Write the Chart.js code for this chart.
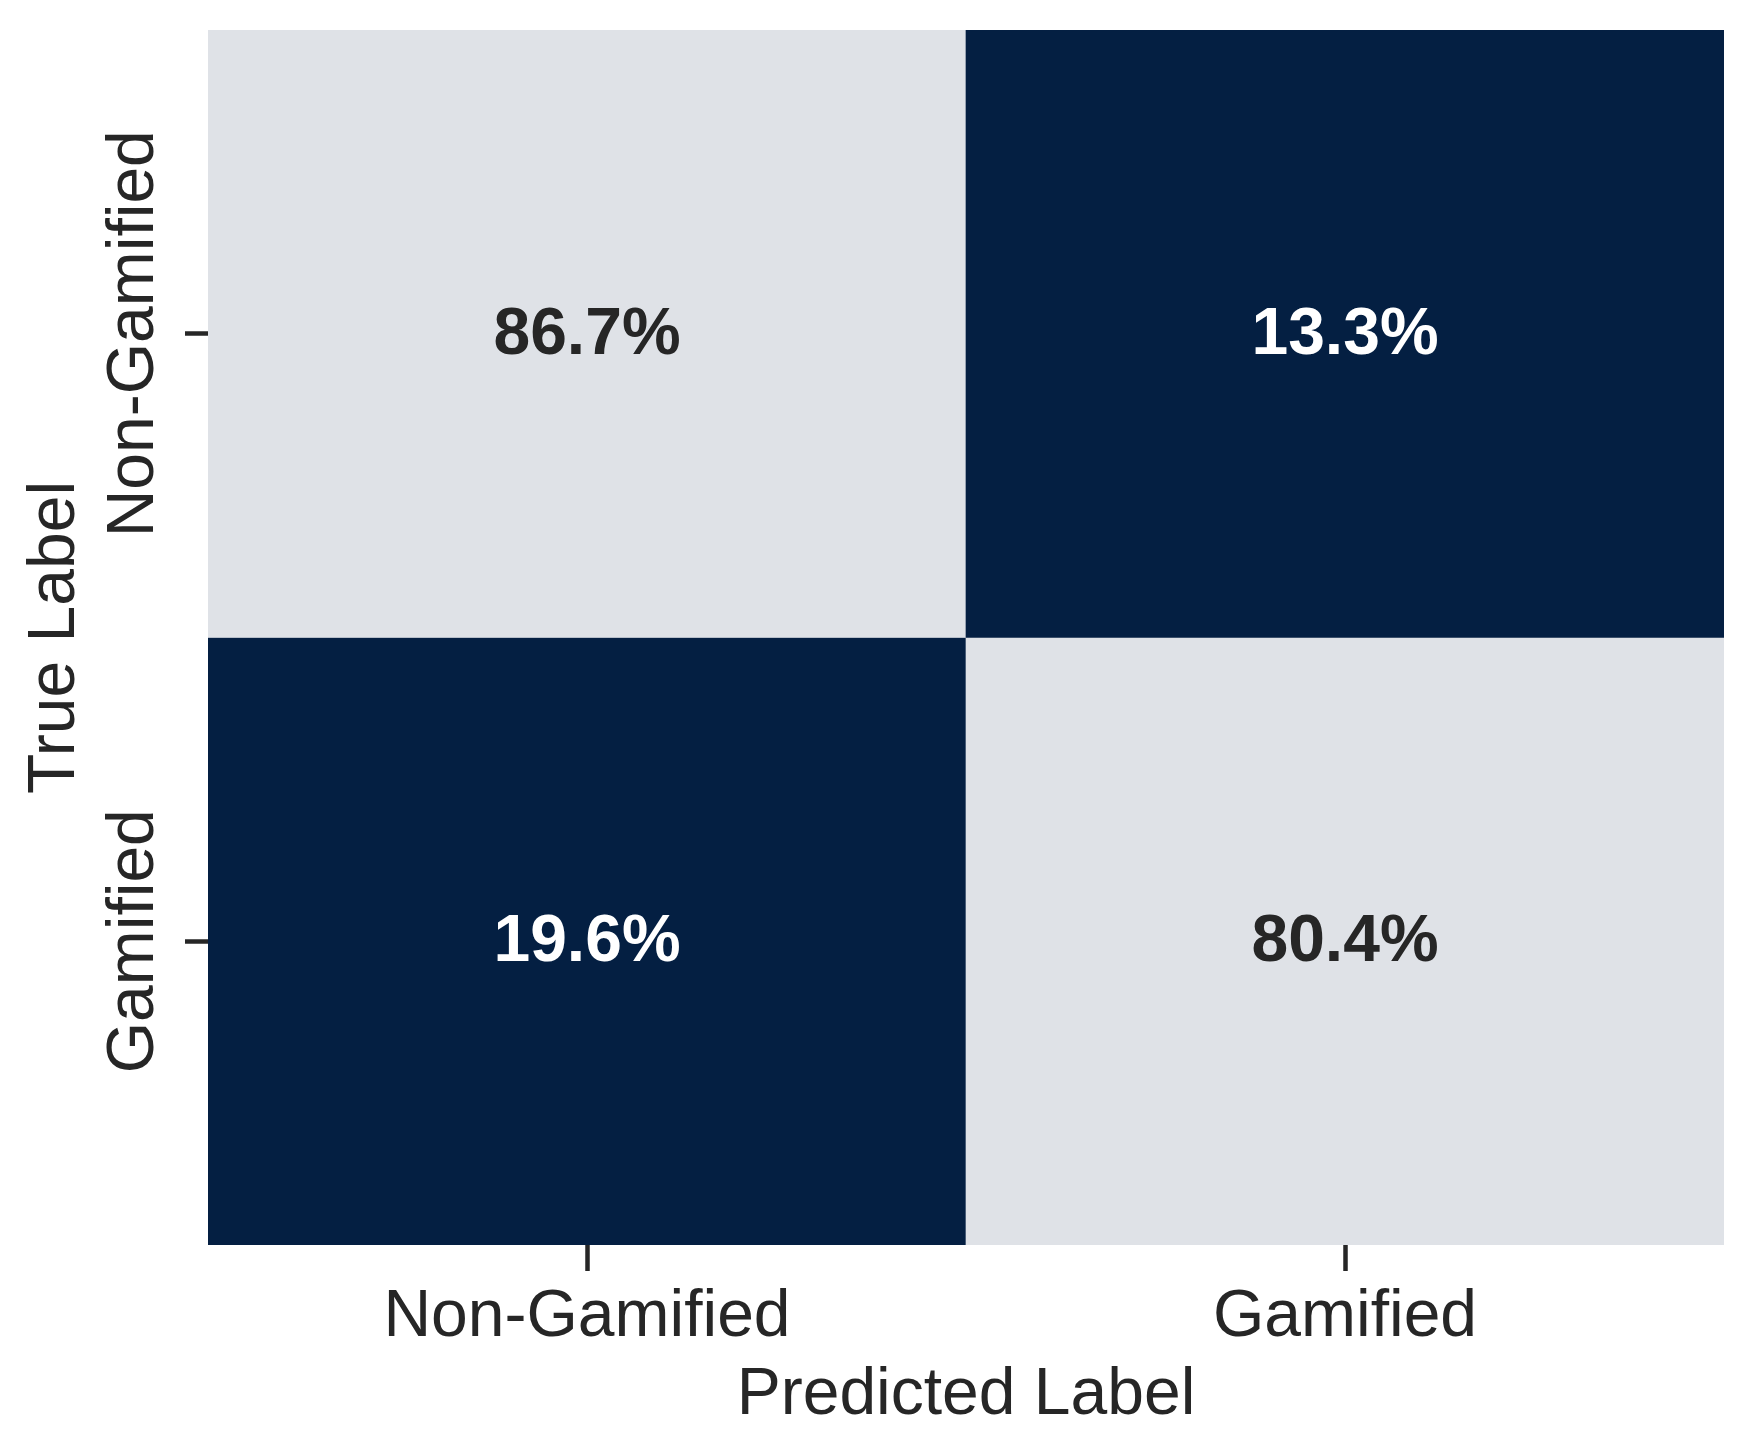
<!DOCTYPE html>
<html>
<head>
<meta charset="utf-8">
<script src="https://cdn.jsdelivr.net/npm/chart.js@4.4.1/dist/chart.umd.min.js"></script>
<style>
  html, body { margin: 0; padding: 0; background: #fff; }
  #wrap { width: 1754px; height: 1454px; }
</style>
</head>
<body>
<div id="wrap"><canvas id="myChart" width="1754" height="1454"></canvas></div>
<script>
// confusion matrix, rows = true label, columns = predicted label (percent)
const predictedLabels = ['Non-Gamified', 'Gamified'];
const trueLabels = ['Non-Gamified', 'Gamified'];
const nonGamifiedRow = [86.7, 13.3];
const gamifiedRow = [19.6, 80.4];
const rows = [nonGamifiedRow, gamifiedRow];

const lightCell = '#dfe2e7';
const darkCell = '#041f42';
const textDark = '#262626';
const fontFamily = '"Liberation Sans", Arial, sans-serif';

const cellColor = v => (v >= 50 ? lightCell : darkCell);
const textColor = v => (v >= 50 ? textDark : '#ffffff');

// one stacked bar per cell, each one row tall
const datasets = rows.map((row, i) => ({
  label: trueLabels[i],
  data: row.map(() => 1),
  pct: row,
  backgroundColor: row.map(cellColor),
  borderWidth: 0,
  barPercentage: 1,
  categoryPercentage: 1
}));

const cellText = {
  id: 'cellText',
  afterDatasetsDraw(chart) {
    const c = chart.ctx;
    c.save();
    c.font = 'bold 66px ' + fontFamily;
    c.textAlign = 'center';
    c.textBaseline = 'middle';
    chart.data.datasets.forEach((ds, i) => {
      chart.getDatasetMeta(i).data.forEach((bar, j) => {
        const v = ds.pct[j];
        c.fillStyle = textColor(v);
        c.fillText(v.toFixed(1) + '%', bar.x, (bar.y + bar.base) / 2 + 2);
      });
    });
    c.restore();
  }
};

const rowLabels = {
  id: 'rowLabels',
  afterDraw(chart) {
    const c = chart.ctx;
    const y = chart.scales.y;
    c.save();
    c.font = '66px ' + fontFamily;
    c.fillStyle = textDark;
    c.textAlign = 'center';
    c.textBaseline = 'middle';
    trueLabels.forEach((lab, i) => {
      c.save();
      c.translate(135, y.getPixelForValue(i + 0.5));
      c.rotate(-Math.PI / 2);
      c.fillText(lab, 0, 0);
      c.restore();
    });
    c.restore();
  }
};

const ctx = document.getElementById('myChart').getContext('2d');

const myChart = new Chart(ctx, {
  type: 'bar',
  data: {
    labels: predictedLabels,
    datasets: datasets
  },
  options: {
    responsive: false,
    devicePixelRatio: 1,
    animation: false,
    layout: {
      padding: { top: 30, right: 30, left: 0, bottom: 0 }
    },
    scales: {
      x: {
        stacked: true,
        grid: {
          offset: false,
          drawOnChartArea: false,
          drawTicks: true,
          tickLength: 26,
          tickWidth: 4.5,
          tickColor: textDark
        },
        border: { display: false },
        ticks: {
          color: textDark,
          padding: 7,
          font: { family: fontFamily, size: 66 }
        },
        title: {
          display: true,
          text: 'Predicted Label',
          color: textDark,
          font: { family: fontFamily, size: 66 },
          padding: { top: 0, bottom: 19 }
        },
        afterFit: s => { s.height = 209; }
      },
      y: {
        stacked: true,
        reverse: true,
        min: 0,
        max: 2,
        afterBuildTicks: s => {
          s.ticks = trueLabels.map((_, i) => ({ value: i + 0.5 }));
        },
        grid: {
          drawOnChartArea: false,
          drawTicks: true,
          tickLength: 23,
          tickWidth: 4.5,
          tickColor: textDark
        },
        border: { display: false },
        ticks: { display: false },
        title: {
          display: true,
          text: 'True Label',
          color: textDark,
          font: { family: fontFamily, size: 66 },
          padding: { top: 16, bottom: 0 }
        },
        afterFit: s => { s.width = 208; }
      }
    },
    plugins: {
      legend: { display: false },
      tooltip: { enabled: false }
    }
  },
  plugins: [cellText, rowLabels]
});
</script>
</body>
</html>
